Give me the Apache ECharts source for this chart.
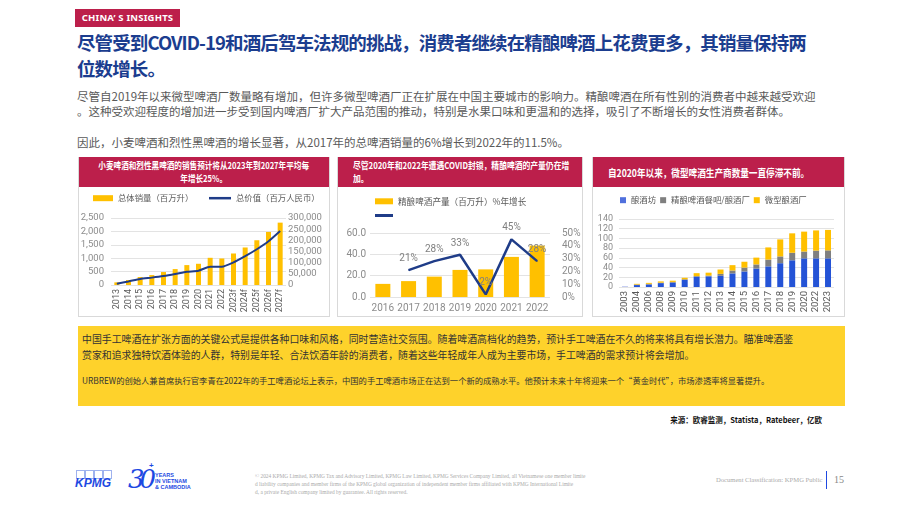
<!DOCTYPE html>
<html>
<head>
<meta charset="utf-8">
<title>精酿啤酒</title>
<script src="https://cdn.jsdelivr.net/npm/echarts@6/dist/echarts.min.js"></script>
<style>
  body { margin: 0; width: 920px; height: 518px; position: relative; background: #fff; overflow: hidden;
         font-family: "Noto Sans CJK SC", "Noto Sans", sans-serif; }
  .abs { position: absolute; }
  .tag { left: 75px; top: 9px; width: 105px; height: 18px; background: #bc1f4b; color: #fff;
         font: bold 9.5px/18px "Noto Sans", sans-serif; text-align: center; letter-spacing: 0.2px; }
  .title { left: 77px; top: 29px; color: #1b3d8f; font-weight: bold; font-size: 18.5px; line-height: 26px;
           letter-spacing: -0.9px; white-space: nowrap; }
  .body { left: 77px; color: #595959; font-size: 11.5px; line-height: 15px; white-space: nowrap; }
  .panel { top: 157px; height: 160px; border: 1px solid #d9d9d9; border-top: none; box-sizing: border-box; }
  .phead { position: absolute; left: 0; right: 0; top: 0; height: 30px; background: #bc1f4b; color: #fff;
           font-weight: bold; display: flex; align-items: center; white-space: nowrap; }
  .phead span { display: inline-block; transform-origin: left center; }
  .yellow { left: 78px; top: 326px; width: 767px; height: 80px; background: #fed22b; color: #333; }
  .foot { font-family: "Liberation Serif", serif; color: #aaa; white-space: nowrap; }
</style>
</head>
<body>

<div class="abs tag">CHINA’&nbsp;S INSIGHTS</div>
<div class="abs title">尽管受到COVID-19和酒后驾车法规的挑战，消费者继续在精酿啤酒上花费更多，其销量保持两<br>位数增长。</div>
<div class="abs body" style="top:89px">尽管自2019年以来微型啤酒厂数量略有增加，但许多微型啤酒厂正在扩展在中国主要城市的影响力。精酿啤酒在所有性别的消费者中越来越受欢迎<br>。这种受欢迎程度的增加进一步受到国内啤酒厂扩大产品范围的推动，特别是水果口味和更温和的选择，吸引了不断增长的女性消费者群体。</div>
<div class="abs body" style="top:135px">因此，小麦啤酒和烈性黑啤酒的增长显著，从2017年的总啤酒销量的6%增长到2022年的11.5%。</div>

<div class="abs panel" style="left:78px;width:252px">
  <div class="phead" style="justify-content:center;font-size:9.5px;line-height:13px;text-align:center">
    <span style="transform:scaleX(0.8);transform-origin:center">小麦啤酒和烈性黑啤酒的销售预计将从2023年到2027年平均每<br>年增长25%。</span>
  </div>
</div>
<div class="abs panel" style="left:337px;width:246px">
  <div class="phead" style="font-size:9.5px;line-height:13px;padding-left:15px">
    <span style="transform:scaleX(0.82)">尽管2020年和2022年遭遇COVID封锁，精酿啤酒的产量仍在增<br>加。</span>
  </div>
</div>
<div class="abs panel" style="left:592px;width:253px">
  <div class="phead" style="font-size:10.5px;padding-left:15px">
    <span style="transform:scaleX(0.82)">自2020年以来，微型啤酒生产商数量一直停滞不前。</span>
  </div>
</div>

<div id="c1" class="abs" style="left:78px;top:188px;width:252px;height:130px"></div>
<div id="c2" class="abs" style="left:337px;top:188px;width:246px;height:130px"></div>
<div id="c3" class="abs" style="left:592px;top:188px;width:253px;height:130px"></div>

<div class="abs yellow">
  <div class="abs" style="left:4px;top:5px;font-size:9.9px;line-height:16px;white-space:nowrap">中国手工啤酒在扩张方面的关键公式是提供各种口味和风格，同时营造社交氛围。随着啤酒高档化的趋势，预计手工啤酒在不久的将来将具有增长潜力。瞄准啤酒鉴<br>赏家和追求独特饮酒体验的人群，特别是年轻、合法饮酒年龄的消费者，随着这些年轻成年人成为主要市场，手工啤酒的需求预计将会增加。</div>
  <div class="abs" style="left:4px;top:48px;font-size:8.3px;line-height:12px;white-space:nowrap">URBREW的创始人兼首席执行官李青在2022年的手工啤酒论坛上表示，中国的手工啤酒市场正在达到一个新的成熟水平。他预计未来十年将迎来一个“黄金时代”，市场渗透率将显著提升。</div>
</div>
<div class="abs" style="right:98px;top:414px;font-size:7.5px;font-weight:bold;color:#111;white-space:nowrap">来源：欧睿监测，Statista，Ratebeer，亿欧</div>

<!-- footer -->
<div class="abs" style="left:75px;top:470px;width:36px;height:20px">
  <div class="abs" style="left:1px;top:0;width:7px;height:7px;border:1px solid #9fb2ee"></div>
  <div class="abs" style="left:10px;top:0;width:7px;height:7px;border:1px solid #9fb2ee"></div>
  <div class="abs" style="left:19px;top:0;width:7px;height:7px;border:1px solid #9fb2ee"></div>
  <div class="abs" style="left:28px;top:0;width:7px;height:7px;border:1px solid #9fb2ee"></div>
  <div class="abs" style="left:0;top:7px;font:italic bold 12px/12px 'Liberation Sans',sans-serif;color:#1e49e2">KPMG</div>
</div>
<div class="abs" style="left:128px;top:464px;font:italic 26px/30px 'DejaVu Serif',serif;color:#1e49e2;letter-spacing:-5px">30</div>
<div class="abs" style="left:149px;top:462px;font:bold 8px/8px 'Liberation Sans',sans-serif;color:#1e49e2">+</div>
<div class="abs" style="left:155px;top:472px;font:bold 5.5px/6px 'Liberation Sans',sans-serif;color:#1e49e2;white-space:nowrap">YEARS<br>IN VIETNAM<br>&amp; CAMBODIA</div>
<div class="abs foot" style="left:255px;top:472px;font-size:5.4px;line-height:8px">© 2024 KPMG Limited, KPMG Tax and Advisory Limited, KPMG Law Limited, KPMG Services Company Limited, all Vietnamese one member limite<br>d liability companies and member firms of the KPMG global organization of independent member firms affiliated with KPMG International Limite<br>d, a private English company limited by guarantee. All rights reserved.</div>
<div class="abs foot" style="left:716px;top:475px;font-size:6.6px;line-height:10px">Document Classification: KPMG Public</div>
<div class="abs" style="left:826px;top:471px;width:1px;height:18px;background:#1e49e2"></div>
<div class="abs foot" style="left:834px;top:473px;font-size:10px;line-height:14px;color:#888">15</div>

<script>
// chart 1: wheat & stout sales
const years1 = ['2013', '2014', '2015', '2016', '2017', '2018', '2019', '2020', '2021', '2022', '2023f', '2024f', '2025f', '2026f', '2027f'];
const volume1 = [99, 186, 297, 371, 483, 594, 743, 792, 1015, 990, 1176, 1400, 1670, 1980, 2327];
const value1 = [6000, 16000, 27000, 33000, 40000, 49000, 59000, 64000, 82000, 82000, 101000, 129000, 160000, 196000, 242000];

// chart 2: craft beer production
const years2 = ['2016', '2017', '2018', '2019', '2020', '2021', '2022'];
const output2 = [12.3, 14.9, 19.1, 25.4, 25.9, 37.6, 48.2];
const growth2 = [null, 21, 28, 33, 2, 45, 28];

// chart 3: number of producers
const years3 = ['2003', '2004', '2006', '2008', '2009', '2010', '2011', '2012', '2013', '2014', '2015', '2016', '2017', '2018', '2019', '2020', '2022', '2023'];
const brewpubs = [2, 4, 5, 8, 9, 14.5, 21, 22, 23, 28, 32, 38, 42.5, 49, 55, 59, 59, 59];
const craftBars = [0, 1, 1.5, 1, 1.5, 1.5, 1.5, 1.5, 4, 6, 8, 8.5, 14, 14, 15.5, 14, 16, 16.5];
const microBreweries = [0, 1.5, 2, 2.5, 2.5, 3, 6, 6, 9, 11, 12, 14, 25, 35, 40, 41, 41.5, 42];

const YELLOW = '#ffc000';
const NAVY = '#1f3c88';
const BLUE = '#2453d6';
const GREY = '#7f7f7f';
const font = 'Roboto, "Noto Sans", sans-serif';
const cjk = '"Noto Sans CJK SC", sans-serif';
const fmt = v => v.toLocaleString('en-US');

const splitLine = { show: true, lineStyle: { color: '#e3e3e3', width: 1 } };

const c1 = echarts.init(document.getElementById('c1'));
c1.setOption({
  backgroundColor: 'transparent',
  animation: false,
  legend: [
    { left: 15, top: 6, padding: 0, itemWidth: 20, itemHeight: 6, icon: 'rect',
      textStyle: { fontFamily: cjk, fontSize: 8.4, color: '#595959' },
      data: ['总体销量（百万升）'] },
    { left: 131, top: 6, padding: 0, itemWidth: 22, itemHeight: 2.5, icon: 'rect',
      textStyle: { fontFamily: cjk, fontSize: 8.4, color: '#595959' },
      data: ['总价值（百万人民币）'] }
  ],
  grid: { left: 33, right: 44, top: 30, bottom: 33, containLabel: false, outerBoundsMode: 'none' },
  xAxis: {
    type: 'category', data: years1,
    axisLine: { show: false }, axisTick: { show: false },
    axisLabel: { interval: 0, rotate: 90, margin: 4, fontFamily: font, fontSize: 9, color: '#595959' }
  },
  yAxis: [
    { type: 'value', min: 0, max: 2500, interval: 500, splitLine,
      axisLine: { show: false }, axisTick: { show: false },
      axisLabel: { margin: 7, fontFamily: font, fontSize: 9.5, color: '#8c8c8c', formatter: fmt } },
    { type: 'value', min: 0, max: 300000, interval: 50000, splitLine: { show: false },
      axisLine: { show: false }, axisTick: { show: false },
      axisLabel: { margin: 2, fontFamily: font, fontSize: 9.5, color: '#8c8c8c', formatter: fmt } }
  ],
  series: [
    { name: '总体销量（百万升）', type: 'bar', data: volume1, barWidth: 5, itemStyle: { color: YELLOW } },
    { name: '总价值（百万人民币）', type: 'line', yAxisIndex: 1, data: value1, symbol: 'none', smooth: 0.2,
      lineStyle: { color: NAVY, width: 2 }, itemStyle: { color: NAVY } }
  ]
});

const c2 = echarts.init(document.getElementById('c2'));
c2.setOption({
  backgroundColor: 'transparent',
  animation: false,
  legend: [
    { left: 38, top: 9, padding: 0, itemWidth: 18, itemHeight: 6, icon: 'rect',
      textStyle: { fontFamily: cjk, fontSize: 8.6, color: '#595959' },
      data: ['精酿啤酒产量（百万升）'],
      formatter: name => name + '%年增长' },
    { left: 38, top: 26, padding: 0, itemWidth: 18, itemHeight: 3, icon: 'rect',
      textStyle: { fontFamily: cjk, fontSize: 8.6, color: '#595959' },
      data: ['%年增长'], formatter: () => '' }
  ],
  grid: { left: 33, right: 33, top: 45, bottom: 21, containLabel: false, outerBoundsMode: 'none' },
  xAxis: {
    type: 'category', data: years2,
    axisLine: { show: false }, axisTick: { show: false },
    axisLabel: { interval: 0, margin: 6, fontFamily: font, fontSize: 10, color: '#8c8c8c' }
  },
  yAxis: [
    { type: 'value', min: 0, max: 60, interval: 20, splitLine,
      axisLine: { show: false }, axisTick: { show: false },
      axisLabel: { margin: 4, fontFamily: font, fontSize: 10, color: '#8c8c8c', formatter: v => v.toFixed(1) } },
    { type: 'value', min: 0, max: 50, interval: 10, splitLine: { show: false },
      axisLine: { show: false }, axisTick: { show: false },
      axisLabel: { margin: 12, fontFamily: font, fontSize: 10, color: '#8c8c8c', formatter: '{value}%' } }
  ],
  series: [
    { name: '精酿啤酒产量（百万升）', type: 'bar', data: output2, barWidth: 15, itemStyle: { color: YELLOW } },
    { name: '%年增长', type: 'line', yAxisIndex: 1, data: growth2, symbol: 'circle', symbolSize: 1,
      showSymbol: true, lineStyle: { color: NAVY, width: 2.5 }, itemStyle: { color: NAVY },
      label: { show: true, position: 'top', distance: 6, formatter: '{c}%',
               fontFamily: font, fontSize: 10, color: '#7f7f7f' },
      labelLayout: { hideOverlap: false } }
  ]
});

const c3 = echarts.init(document.getElementById('c3'));
c3.setOption({
  backgroundColor: 'transparent',
  animation: false,
  legend: {
    left: 28, top: 8, padding: 0, itemGap: 4, itemWidth: 6, itemHeight: 6, icon: 'rect',
    textStyle: { fontFamily: cjk, fontSize: 8.4, color: '#595959' },
    data: ['酿酒坊', '精酿啤酒餐吧/酿酒厂', '微型酿酒厂']
  },
  grid: { left: 27, right: 11, top: 31, bottom: 31, containLabel: false, outerBoundsMode: 'none' },
  xAxis: {
    type: 'category', data: years3,
    axisLine: { show: false }, axisTick: { show: false },
    axisLabel: { interval: 0, rotate: 90, margin: 4, fontFamily: font, fontSize: 9.5, color: '#595959' }
  },
  yAxis: {
    type: 'value', min: 0, max: 140, interval: 20, splitLine,
    axisLine: { show: false }, axisTick: { show: false },
    axisLabel: { margin: 6, fontFamily: font, fontSize: 9, color: '#8c8c8c' }
  },
  series: [
    { name: '酿酒坊', type: 'bar', stack: 'n', data: brewpubs, barWidth: 6,
      itemStyle: { color: p => (p.dataIndex === 0 ? '#c5cdf2' : BLUE) } },
    { name: '精酿啤酒餐吧/酿酒厂', type: 'bar', stack: 'n', data: craftBars, barWidth: 6, itemStyle: { color: GREY } },
    { name: '微型酿酒厂', type: 'bar', stack: 'n', data: microBreweries, barWidth: 6, itemStyle: { color: YELLOW } }
  ]
});
</script>
</body>
</html>
